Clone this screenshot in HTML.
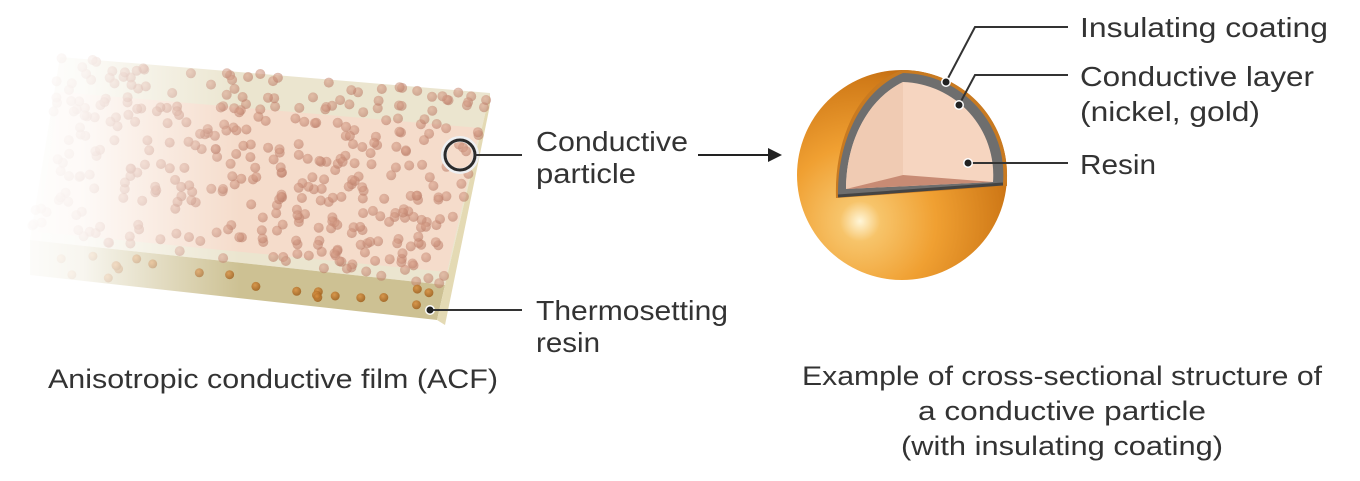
<!DOCTYPE html>
<html><head><meta charset="utf-8"><style>
html,body{margin:0;padding:0;background:#fff;}
svg{display:block;}
text{font-family:"Liberation Sans",sans-serif;fill:#333;}
</style></head><body>
<svg id="s" width="1360" height="481" viewBox="0 0 1360 481" xmlns="http://www.w3.org/2000/svg">
<defs>
<linearGradient id="fade" x1="0" y1="0" x2="1" y2="0">
<stop offset="0" stop-color="#fff" stop-opacity="1"/>
<stop offset="0.35" stop-color="#fff" stop-opacity="0.85"/>
<stop offset="1" stop-color="#fff" stop-opacity="0"/>
</linearGradient>
<radialGradient id="sph" cx="0.3" cy="0.72" r="0.8">
<stop offset="0" stop-color="#fff6d8"/>
<stop offset="0.12" stop-color="#f7c46a"/>
<stop offset="0.45" stop-color="#f0a032"/>
<stop offset="0.85" stop-color="#d07a18"/>
<stop offset="1" stop-color="#b86410"/>
</radialGradient>
<radialGradient id="pt" cx="0.4" cy="0.35" r="0.7">
<stop offset="0" stop-color="#dba38c"/>
<stop offset="1" stop-color="#b87a66"/>
</radialGradient>
<radialGradient id="pt2" cx="0.4" cy="0.35" r="0.7">
<stop offset="0" stop-color="#d99040"/>
<stop offset="1" stop-color="#9a5a18"/>
</radialGradient>
</defs>
<!-- film -->
<polygon points="60,57 490,93 445,285 30,240" fill="#ebe5cf"/>
<polygon points="30,240 445,285 437,320 30,275" fill="#cdc193"/>
<polygon points="490,93 490,105 445,325 437,320 445,285" fill="#e4dab4"/>
<polygon points="60,92 480,128 447,272 38,232" fill="#f5dccb"/>
<g id="parts"></g>
<rect x="0" y="40" width="240" height="300" fill="url(#fade)"/>
<!-- callouts left -->
<circle cx="460" cy="155" r="16" fill="none" stroke="#eef0f2" stroke-width="6"/>
<circle cx="460" cy="155" r="15" fill="none" stroke="#2b2b2b" stroke-width="3"/>
<line x1="475" y1="155" x2="522" y2="155" stroke="#333" stroke-width="2"/>
<circle cx="430" cy="310" r="5" fill="#fff"/>
<circle cx="430" cy="310" r="3.5" fill="#222"/>
<line x1="433" y1="310" x2="522" y2="310" stroke="#333" stroke-width="2"/>
<text x="536" y="151" font-size="28" textLength="152" lengthAdjust="spacingAndGlyphs">Conductive</text>
<text x="536" y="183" font-size="28" textLength="100" lengthAdjust="spacingAndGlyphs">particle</text>
<text x="536" y="320" font-size="28" textLength="192" lengthAdjust="spacingAndGlyphs">Thermosetting</text>
<text x="536" y="352" font-size="28" textLength="64" lengthAdjust="spacingAndGlyphs">resin</text>
<line x1="698" y1="155" x2="768" y2="155" stroke="#222" stroke-width="2"/>
<polygon points="768,148 782,155 768,162" fill="#222"/>
<!-- sphere -->
<circle cx="902" cy="175" r="105" fill="url(#sph)"/>
<path d="M902,70 A105,105 0 0 1 1007,178 L1007,186 L836,198 C834,140 858,86 902,70 Z" fill="#c97a20"/>
<path d="M903,73 A102,102 0 0 1 1003,184 L838,196 C837,142 861,90 903,73 Z" fill="#6e6e6e"/>
<path d="M903,82 A93,93 0 0 1 993,182 L846,189 C846,144 866,100 903,82 Z" fill="#f6d5c0"/>
<path d="M903,82 L903,175 L846,189 C846,144 866,100 903,82 Z" fill="#f0cbb3"/>
<path d="M903,175 L993,182 L846,189 Z" fill="#c88b74"/>
<path d="M838,196 L1003,184" stroke="#444" stroke-width="3" fill="none"/>
<!-- callouts right -->
<polyline points="946,82 975,27 1068,27" fill="none" stroke="#333" stroke-width="2"/>
<polyline points="959,105 975,75 1068,75" fill="none" stroke="#333" stroke-width="2"/>
<line x1="968" y1="163" x2="1068" y2="163" stroke="#333" stroke-width="2"/>
<circle cx="946" cy="82" r="5" fill="#fff"/><circle cx="946" cy="82" r="3.5" fill="#222"/>
<circle cx="959" cy="105" r="5" fill="#fff"/><circle cx="959" cy="105" r="3.5" fill="#222"/>
<circle cx="968" cy="163" r="5" fill="#fff"/><circle cx="968" cy="163" r="3.5" fill="#222"/>
<text x="1080" y="37" font-size="28" textLength="248" lengthAdjust="spacingAndGlyphs">Insulating coating</text>
<text x="1080" y="86" font-size="28" textLength="234" lengthAdjust="spacingAndGlyphs">Conductive layer</text>
<text x="1080" y="121" font-size="28" textLength="180" lengthAdjust="spacingAndGlyphs">(nickel, gold)</text>
<text x="1080" y="174" font-size="28" textLength="76" lengthAdjust="spacingAndGlyphs">Resin</text>
<!-- captions -->
<text x="48" y="388" font-size="27" textLength="450" lengthAdjust="spacingAndGlyphs">Anisotropic conductive film (ACF)</text>
<text x="1062" y="385" font-size="27" text-anchor="middle" textLength="520" lengthAdjust="spacingAndGlyphs">Example of cross-sectional structure of</text>
<text x="1062" y="420" font-size="27" text-anchor="middle" textLength="288" lengthAdjust="spacingAndGlyphs">a conductive particle</text>
<text x="1062" y="455" font-size="27" text-anchor="middle" textLength="322" lengthAdjust="spacingAndGlyphs">(with insulating coating)</text>
</svg>
<script>
(function(){
var g=document.getElementById('parts'),ns='http://www.w3.org/2000/svg',seed=7;
function r(){seed=(seed*16807)%2147483647;return seed/2147483647;}
function add(x,y,rr,f,o){var c=document.createElementNS(ns,'circle');c.setAttribute('cx',x.toFixed(1));c.setAttribute('cy',y.toFixed(1));c.setAttribute('r',rr);c.setAttribute('fill',f);c.setAttribute('opacity',o);g.appendChild(c);}
for(var i=0;i<400;i++){var u=r(),v=r();
var top=60+(490-60)*u, bot=30+(445-30)*u;
var y0=57+36*u, y1=240+45*u;
var x=top+(bot-top)*v, y=y0+(y1-y0)*v;
add(x,y,'5','url(#pt)',0.6);}
for(var j=0;j<22;j++){var u2=r(),v2=r();var x2=60+380*u2;var y2=250+40*u2+v2*25;add(x2,y2,'4.5','url(#pt2)',0.85);}
})();
</script>
</body></html>
